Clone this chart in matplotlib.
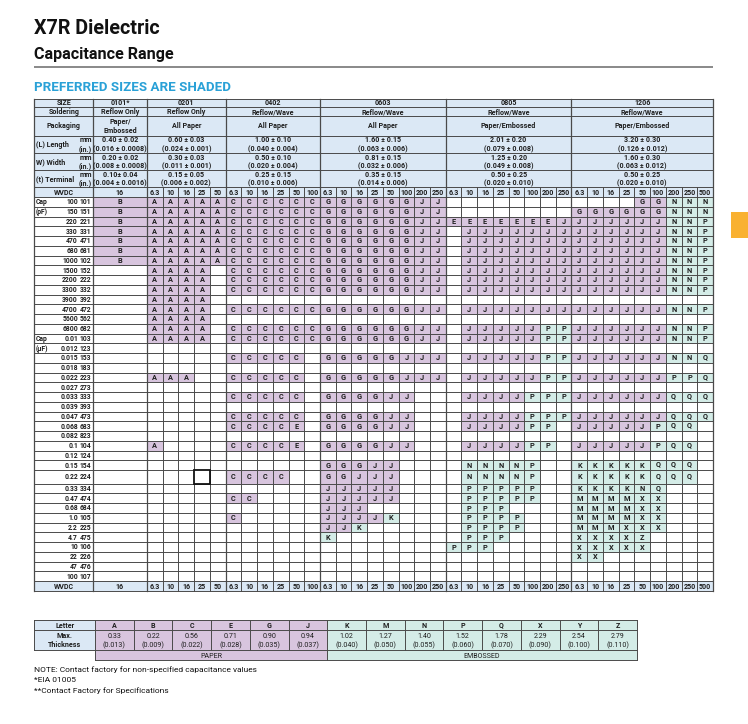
import matplotlib
matplotlib.use("Agg")
import matplotlib.pyplot as plt
from matplotlib.patches import Rectangle

plt.rcParams['font.family'] = ['Roboto', 'DejaVu Sans']

# ---------------- data ----------------
sizes = ["0101*", "0201", "0402", "0603", "0805", "1206"]
soldering = ["Reflow Only", "Reflow Only", "Reflow/Wave", "Reflow/Wave", "Reflow/Wave", "Reflow/Wave"]
packaging = ["Paper/\nEmbossed", "All Paper", "All Paper", "All Paper", "Paper/Embossed", "Paper/Embossed"]
length_mm = ["0.40 ± 0.02", "0.60 ± 0.03", "1.00 ± 0.10", "1.60 ± 0.15", "2.01 ± 0.20", "3.20 ± 0.30"]
length_in = ["(0.016 ± 0.0008)", "(0.024 ± 0.001)", "(0.040 ± 0.004)", "(0.063 ± 0.006)", "(0.079 ± 0.008)", "(0.126 ± 0.012)"]
width_mm = ["0.20 ± 0.02", "0.30 ± 0.03", "0.50 ± 0.10", "0.81 ± 0.15", "1.25 ± 0.20", "1.60 ± 0.30"]
width_in = ["(0.008 ± 0.0008)", "(0.011 ± 0.001)", "(0.020 ± 0.004)", "(0.032 ± 0.006)", "(0.049 ± 0.008)", "(0.063 ± 0.012)"]
term_mm = ["0.10± 0.04", "0.15 ± 0.05", "0.25 ± 0.15", "0.35 ± 0.15", "0.50 ± 0.25", "0.50 ± 0.25"]
term_in = ["(0.004 ± 0.0016)", "(0.006 ± 0.002)", "(0.010 ± 0.006)", "(0.014 ± 0.006)", "(0.020 ± 0.010)", "(0.020 ± 0.010)"]

wvdc_0101 = ["16"]
wvdc_0201 = ["6.3", "10", "16", "25", "50"]
wvdc_0402 = ["6.3", "10", "16", "25", "50", "100"]
wvdc_0603 = ["6.3", "10", "16", "25", "50", "100", "200", "250"]
wvdc_0805 = ["6.3", "10", "16", "25", "50", "100", "200", "250"]
wvdc_1206 = ["6.3", "10", "16", "25", "50", "100", "200", "250", "500"]

cap_values = ["100", "150", "220", "330", "470", "680", "1000", "1500", "2200", "3300",
              "3900", "4700", "5600", "6800", "0.01", "0.012", "0.015", "0.018", "0.022", "0.027",
              "0.033", "0.039", "0.047", "0.068", "0.082", "0.1", "0.12", "0.15", "0.22", "0.33",
              "0.47", "0.68", "1.0", "2.2", "4.7", "10", "22", "47", "100"]
cap_codes = ["101", "151", "221", "331", "471", "681", "102", "152", "222", "332",
             "392", "472", "562", "682", "103", "123", "153", "183", "223", "273",
             "333", "393", "473", "683", "823", "104", "124", "154", "224", "334",
             "474", "684", "105", "225", "475", "106", "226", "476", "107"]
cap_units = {0: "Cap", 1: "(pF)", 14: "Cap", 15: "(µF)"}

# thickness letter per row ('.' = not available)
grid_0101 = ["B"] * 7 + ["."] * 32
grid_0201 = (["AAAAA"] * 7 + ["AAAA."] * 8 + ["....."] * 3 + ["AAA.."] + ["....."] * 6
             + ["A...."] + ["....."] * 13)
grid_0402 = (["CCCCCC"] * 10 + ["......", "CCCCCC", "......", "CCCCCC", "CCCCCC", "......",
              "CCCCC.", "......", "CCCCC.", "......", "CCCCC.", "......", "CCCCC.", "CCCCE.",
              "......", "CCCCE.", "......", "......", "CCCC..", "......", "CC....", "......",
              "C....."] + ["......"] * 6)
grid_0603 = (["GGGGGGJJ"] * 10 + ["........", "GGGGGGJJ", "........", "GGGGGGJJ", "GGGGGGJJ",
              "........", "GGGGGJJJ", "........", "GGGGGJJJ", "........", "GGGGJJ..",
              "........", "GGGGJJ..", "GGGGJJ..", "........", "GGGGJJ..", "........",
              "GGGJJ...", "GGJJJ...", "JJJJJ...", "JJJJJ...", "JJJ.....", "JJJJK...",
              "JJK.....", "K......."] + ["........"] * 4)
grid_0805 = (["........", "........", "EEEEEEEJ"] + [".JJJJJJJ"] * 7
             + ["........", ".JJJJJJJ", "........", ".JJJJJPP", ".JJJJJPP", "........",
                ".JJJJJPP", "........", ".JJJJJPP", "........", ".JJJJPPP", "........",
                ".JJJJPPP", ".JJJJPP.", "........", ".JJJJPP.", "........", ".NNNNP..",
                ".NNNNP..", ".PPPPP..", ".PPPPP..", ".PPP....", ".PPPP...", ".PPPP...",
                ".PPP....", "PPP....."] + ["........"] * 3)
grid_1206 = (["....GGNNN", "GGGGGGNNN"] + ["JJJJJJNNP"] * 8
             + [".........", "JJJJJJNNP", ".........", "JJJJJJNNP", "JJJJJJNNP",
                ".........", "JJJJJJNNQ", ".........", "JJJJJJPPQ", ".........",
                "JJJJJJQQQ", ".........", "JJJJJJQQQ", "JJJJJPQQ.", ".........",
                "JJJJJPQQ.", ".........", "KKKKKQQQ.", "KKKKKQQQ.", "KKKKNQ...",
                "MMMMXX...", "MMMMXX...", "MMMMXX...", "MMMXXX...", "XXXXZ....",
                "XXXXX....", "XX......."] + ["........."] * 2)
boxed_cell = ("0201", "25", "0.22")

paper_letters = "ABCEGJ"
legend_letters = ["A", "B", "C", "E", "G", "J", "K", "M", "N", "P", "Q", "X", "Y", "Z"]
thickness_mm = ["0.33", "0.22", "0.56", "0.71", "0.90", "0.94", "1.02", "1.27", "1.40",
                "1.52", "1.78", "2.29", "2.54", "2.79"]
thickness_in = ["(0.013)", "(0.009)", "(0.022)", "(0.028)", "(0.035)", "(0.037)", "(0.040)",
                "(0.050)", "(0.055)", "(0.060)", "(0.070)", "(0.090)", "(0.100)", "(0.110)"]
notes = ["NOTE: Contact factory for non-specified capacitance values",
         "*EIA 01005",
         "**Contact Factory for Specifications"]

wvdc = [wvdc_0101, wvdc_0201, wvdc_0402, wvdc_0603, wvdc_0805, wvdc_1206]
grids = [grid_0101, grid_0201, grid_0402, grid_0603, grid_0805, grid_1206]

# ---------------- style / layout ----------------
PURPLE = "#D8C5DE"
GREEN = "#D4ECE7"
BLUE = "#DBE8F5"
LINE = "#4A4A4A"
TXT = "#1E1E1E"

W, H = 748, 724
fig = plt.figure(figsize=(W / 100, H / 100), dpi=100)
ax = fig.add_axes([0, 0, 1, 1])
ax.set_xlim(0, W)
ax.set_ylim(H, 0)
ax.axis("off")

FS = 5.1       # header / label text
FS_L = 5.3     # body letters
FS_CAP = 4.9   # capacitance labels


def ctext(x, yc, s, fs=FS, weight="bold", ha="center", **kw):
    """Place text so that its cap height is centred on yc."""
    off = 0.711 * fs * 100 / 72 / 2
    ax.text(x, yc + off, s, fontsize=fs, fontweight=weight, color=TXT, ha=ha, va="baseline", **kw)


mid = lambda a, b: (a + b) / 2

# titles
ax.text(34, 34, "X7R Dielectric", fontsize=14.2, fontweight="bold", color="#111111", va="baseline")
ax.text(34, 59.3, "Capacitance Range", fontsize=11.6, fontweight="bold", color="#111111", va="baseline")
ax.plot([34, 713], [66.8, 66.8], color="#808080", lw=1.3, solid_capstyle="butt")
ax.text(34.5, 90.6, "PREFERRED SIZES ARE SHADED", fontsize=9.6, fontweight="bold",
        color="#2AA1D7", va="baseline")
ax.add_patch(Rectangle((731, 212), 17, 26, facecolor="#F9B131", edgecolor="none"))

# table geometry
X0, XL, X1, XR = 34.5, 93.0, 147.0, 713.0
ncol = sum(len(v) for v in wvdc[1:])
cw = (XR - X1) / ncol
size_cols = [[(XL, X1)]]
x = X1
for v in wvdc[1:]:
    cols = []
    for _ in v:
        cols.append((x, x + cw))
        x += cw
    size_cols.append(cols)
group_edges = [XL] + [c[-1][1] for c in size_cols]

hdr_y = [98.5, 107.0, 116.3, 135.5, 153.0, 170.0, 187.0, 197.0]
pitch = 9.75
row_h = [pitch * (1.4 if cv == "0.22" else 1.0) for cv in cap_values]
row_top = []
y = hdr_y[-1]
for h in row_h:
    row_top.append(y)
    y += h
body_bottom = y
foot_bottom = body_bottom + pitch

# header background
ax.add_patch(Rectangle((X0, hdr_y[0]), XR - X0, hdr_y[-1] - hdr_y[0], facecolor=BLUE, edgecolor="none"))
ax.add_patch(Rectangle((X0, body_bottom), XR - X0, foot_bottom - body_bottom, facecolor=BLUE, edgecolor="none"))

# body cell fills + letters
for gi, (grid, cols) in enumerate(zip(grids, size_cols)):
    for ri, rowstr in enumerate(grid):
        for ci, ch in enumerate(rowstr):
            if ch == ".":
                continue
            xl, xr = cols[ci]
            color = PURPLE if ch in paper_letters else GREEN
            ax.add_patch(Rectangle((xl, row_top[ri]), xr - xl, row_h[ri], facecolor=color, edgecolor="none"))
            ctext(mid(xl, xr), row_top[ri] + row_h[ri] / 2 - (1.3 if ch == "Q" else 0), ch, fs=FS_L)

# header texts
row_mid = [mid(hdr_y[i], hdr_y[i + 1]) for i in range(len(hdr_y) - 1)]
ctext(mid(X0, XL), row_mid[0], "SIZE")
ctext(mid(X0, XL), row_mid[1], "Soldering")
ctext(mid(X0, XL), row_mid[2], "Packaging")
for k, lab in enumerate(["(L) Length", "W) Width", "(t) Terminal"]):
    r = 3 + k
    ctext(X0 + 1.8, row_mid[r], lab, ha="left")
    ctext(XL - 0.8, hdr_y[r] + 4.3, "mm", ha="right")
    ctext(XL - 0.8, hdr_y[r + 1] - 4.3, "(in.)", ha="right")
ctext(mid(X0, XL), row_mid[6], "WVDC")

for gi in range(len(sizes)):
    gx = mid(group_edges[gi], group_edges[gi + 1])
    ctext(gx, row_mid[0], sizes[gi])
    ctext(gx, row_mid[1], soldering[gi])
    if "\n" in packaging[gi]:
        a, b = packaging[gi].split("\n")
        ctext(gx, row_mid[2] - 4.2, a)
        ctext(gx, row_mid[2] + 4.2, b)
    else:
        ctext(gx, row_mid[2], packaging[gi])
    for r, (a, b) in zip([3, 4, 5], [(length_mm, length_in), (width_mm, width_in), (term_mm, term_in)]):
        ctext(gx, hdr_y[r] + 4.3, a[gi])
        ctext(gx, hdr_y[r + 1] - 4.3, b[gi])
    for (xl, xr), v in zip(size_cols[gi], wvdc[gi]):
        ctext(mid(xl, xr), row_mid[6], v)
        ctext(mid(xl, xr), mid(body_bottom, foot_bottom), v)
ctext(mid(X0, XL), mid(body_bottom, foot_bottom), "WVDC")

# body label column
for ri, (cv, cc) in enumerate(zip(cap_values, cap_codes)):
    yc = row_top[ri] + row_h[ri] / 2
    ctext(78.0, yc, cv, fs=FS_CAP, ha="right")
    ctext(91.0, yc, cc, fs=FS_CAP, ha="right")
    if ri in cap_units:
        ctext(X0 + 1.5, yc, cap_units[ri], fs=FS_CAP, ha="left")

# grid lines
lw = 0.7
for yy in hdr_y[:-1]:
    ax.plot([X0, XR], [yy, yy], color=LINE, lw=lw)
for yy in row_top + [body_bottom, foot_bottom]:
    ax.plot([X0, XR], [yy, yy], color=LINE, lw=lw)
for xx in [X0] + group_edges:
    ax.plot([xx, xx], [hdr_y[0], foot_bottom], color=LINE, lw=0.9)
for cols in size_cols[1:]:
    for (xl, xr) in cols[1:]:
        ax.plot([xl, xl], [hdr_y[6], foot_bottom], color=LINE, lw=lw)

# boxed empty cell
bg = sizes.index(boxed_cell[0])
bc = wvdc[bg].index(boxed_cell[1])
br = cap_values.index(boxed_cell[2])
bxl, bxr = size_cols[bg][bc]
ax.add_patch(Rectangle((bxl, row_top[br]), bxr - bxl, row_h[br], facecolor="white",
                       edgecolor="#111111", lw=1.3, zorder=3))

# ---------------- thickness legend table ----------------
LX0, LXL, LXR = 34.5, 95.0, 637.0
lcw = (LXR - LXL) / len(legend_letters)
ly = [620.0, 630.0, 650.0, 660.0]
ax.add_patch(Rectangle((LX0, ly[0]), LXL - LX0, ly[2] - ly[0], facecolor=BLUE, edgecolor="none"))
for i, L in enumerate(legend_letters):
    xl = LXL + i * lcw
    color = PURPLE if L in paper_letters else GREEN
    ax.add_patch(Rectangle((xl, ly[0]), lcw, ly[3] - ly[0], facecolor=color, edgecolor="none"))
    ctext(xl + lcw / 2, mid(ly[0], ly[1]), L)
    ctext(xl + lcw / 2, mid(ly[1], ly[2]) - 4.3, thickness_mm[i], weight="normal")
    ctext(xl + lcw / 2, mid(ly[1], ly[2]) + 4.3, thickness_in[i], weight="normal")
ctext(mid(LX0, LXL), mid(ly[0], ly[1]), "Letter")
ctext(mid(LX0, LXL), mid(ly[1], ly[2]) - 4.3, "Max.")
ctext(mid(LX0, LXL), mid(ly[1], ly[2]) + 4.3, "Thickness")
n_paper = sum(1 for L in legend_letters if L in paper_letters)
xsplit = LXL + n_paper * lcw
ctext(mid(LXL, xsplit), mid(ly[2], ly[3]), "PAPER", weight="normal")
ctext(mid(xsplit, LXR), mid(ly[2], ly[3]), "EMBOSSED", weight="normal")
for yy in ly[:3]:
    ax.plot([LX0, LXR], [yy, yy], color=LINE, lw=lw)
ax.plot([LXL, LXR], [ly[3], ly[3]], color=LINE, lw=lw)
ax.plot([LX0, LX0], [ly[0], ly[2]], color=LINE, lw=lw)
for i in range(len(legend_letters) + 1):
    xx = LXL + i * lcw
    ax.plot([xx, xx], [ly[0], ly[2]], color=LINE, lw=lw)
for xx in [LXL, xsplit, LXR]:
    ax.plot([xx, xx], [ly[2], ly[3]], color=LINE, lw=lw)

# notes
for k, s in enumerate(notes):
    ax.text(34.5, 670 + k * 10.3, s, fontsize=6.0, color="#111111", ha="left", va="center")

fig.savefig("out.png", dpi=100)
